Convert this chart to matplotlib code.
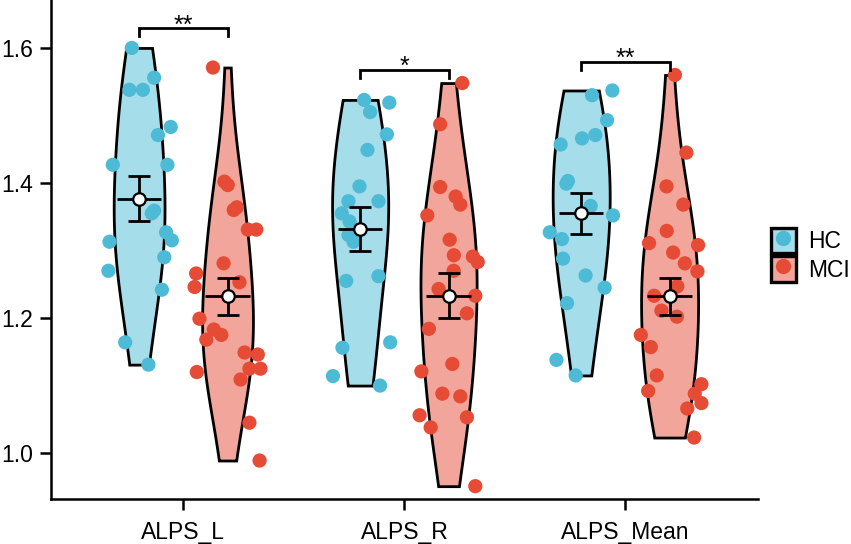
import numpy as np
import matplotlib
matplotlib.use("Agg")
import matplotlib.pyplot as plt
from matplotlib.patches import Patch
from matplotlib.lines import Line2D
from matplotlib.legend_handler import HandlerTuple

plt.rcParams['font.family'] = ['Liberation Sans', 'DejaVu Sans']

# ---------------- data ----------------
categories = ["ALPS_L", "ALPS_R", "ALPS_Mean"]
groups = ["HC", "MCI"]

hc_L = [1.600, 1.556, 1.538, 1.538, 1.483, 1.471, 1.427, 1.427, 1.359, 1.355,
        1.327, 1.315, 1.313, 1.290, 1.270, 1.242, 1.164, 1.131]
hc_L_jit = [-0.033, 0.068, -0.044, 0.017, 0.143, 0.085, -0.119, 0.128, 0.068, 0.057,
            0.122, 0.148, -0.134, 0.114, -0.139, 0.103, -0.063, 0.042]

mci_L = [1.571, 1.402, 1.397, 1.364, 1.360, 1.331, 1.331, 1.281, 1.266, 1.246, 1.253,
         1.199, 1.183, 1.175, 1.168, 1.149, 1.146, 1.125, 1.125, 1.120, 1.109,
         1.045, 0.989]
mci_L_jit = [-0.066, -0.014, 0.001, 0.042, 0.028, 0.092, 0.130, -0.018, -0.142, -0.149, 0.054,
             -0.127, -0.062, -0.028, -0.096, 0.077, 0.137, 0.099, 0.149, -0.139, 0.059,
             0.099, 0.145]

hc_R = [1.523, 1.519, 1.505, 1.472, 1.449, 1.395, 1.373, 1.373, 1.355, 1.343,
        1.323, 1.313, 1.255, 1.262, 1.164, 1.156, 1.114, 1.100]
hc_R_jit = [0.018, 0.132, 0.045, 0.121, 0.033, -0.003, 0.083, -0.053, -0.083, -0.048,
            -0.053, -0.030, -0.063, 0.083, 0.136, -0.080, -0.123, 0.090]

mci_R = [1.548, 1.487, 1.394, 1.380, 1.368, 1.352, 1.316, 1.293, 1.291, 1.283,
         1.270, 1.243, 1.233, 1.207, 1.184, 1.132, 1.121, 1.088, 1.084, 1.056,
         1.053, 1.038, 0.951]
mci_R_jit = [0.062, -0.038, -0.038, 0.032, 0.053, -0.096, 0.005, 0.024, 0.110, 0.132,
             0.023, -0.045, 0.121, 0.083, -0.089, 0.017, -0.123, -0.028, 0.053, -0.131,
             0.083, -0.081, 0.121]

hc_Mean = [1.530, 1.537, 1.493, 1.466, 1.471, 1.457, 1.403, 1.399, 1.366, 1.352,
           1.327, 1.317, 1.288, 1.263, 1.245, 1.222, 1.138, 1.115]
hc_Mean_jit = [0.049, 0.141, 0.117, 0.004, 0.064, -0.093, -0.060, -0.067, 0.043, 0.144,
               -0.142, -0.087, -0.082, 0.020, 0.106, -0.064, -0.112, -0.025]

mci_Mean = [1.560, 1.445, 1.395, 1.368, 1.329, 1.311, 1.308, 1.297, 1.281, 1.269,
            1.247, 1.233, 1.211, 1.202, 1.175, 1.157, 1.115, 1.092, 1.102, 1.088,
            1.074, 1.066, 1.023]
mci_Mean_jit = [0.024, 0.076, -0.014, 0.062, -0.013, -0.093, 0.129, 0.016, 0.069, 0.126,
                0.035, -0.070, -0.037, 0.033, -0.130, -0.085, -0.058, -0.097, 0.144, 0.114,
                0.144, 0.080, 0.111]

hc_means = [1.377, 1.332, 1.355]
hc_se = [0.033, 0.032, 0.030]
mci_means = [1.232, 1.233, 1.232]
mci_se = [0.028, 0.033, 0.028]

sig_labels = ["**", "*", "**"]
sig_y = [1.629, 1.568, 1.579]

yticks = [1.0, 1.2, 1.4, 1.6]
ytick_labels = ["1.0", "1.2", "1.4", "1.6"]

# ---------------- styling ----------------
dot_col = {"HC": "#4DBBD5", "MCI": "#E64B35"}
fill_col = {"HC": "#A6DDEA", "MCI": "#F2A59A"}
half_width = [0.115, 0.127, 0.129]
bw_adjust = 1.5
dodge = 0.2
lw = 2.0

values = {"HC": [hc_L, hc_R, hc_Mean], "MCI": [mci_L, mci_R, mci_Mean]}
jitters = {"HC": [hc_L_jit, hc_R_jit, hc_Mean_jit], "MCI": [mci_L_jit, mci_R_jit, mci_Mean_jit]}
means = {"HC": hc_means, "MCI": mci_means}
ses = {"HC": hc_se, "MCI": mci_se}


def nrd0(x):
    x = np.asarray(x)
    sd = x.std(ddof=1)
    iqr = np.subtract(*np.percentile(x, [75, 25]))
    lo = min(sd, iqr / 1.34) if iqr > 0 else sd
    return 0.9 * lo * len(x) ** (-0.2)


def kde(x, grid):
    x = np.asarray(x)
    bw = nrd0(x) * bw_adjust
    z = (grid[:, None] - x[None, :]) / bw
    return np.exp(-0.5 * z ** 2).sum(axis=1) / (len(x) * bw * np.sqrt(2 * np.pi))


fig = plt.figure(figsize=(8.51, 5.44), dpi=100)
ax = fig.add_axes([50.7 / 851, 45 / 544, (758 - 50.7) / 851, 499 / 544])

for ci, cat in enumerate(categories):
    center = ci + 1
    for gi, g in enumerate(groups):
        xc = center + (-dodge if gi == 0 else dodge)
        v = np.asarray(values[g][ci])
        grid = np.linspace(v.min(), v.max(), 400)
        d = kde(v, grid)
        d = d / d.max() * half_width[ci]
        ax.fill_betweenx(grid, xc - d, xc + d, facecolor=fill_col[g], edgecolor="black",
                         linewidth=lw, joinstyle="miter", zorder=2)
        ax.scatter(xc + np.asarray(jitters[g][ci]), v, s=105, color=dot_col[g],
                   edgecolors="none", zorder=3)
        m, s = means[g][ci], ses[g][ci]
        ax.errorbar(xc, m, yerr=s, fmt="none", ecolor="black", elinewidth=lw,
                    capsize=7.8, capthick=lw, zorder=4)
        ax.plot([xc - 0.1, xc + 0.1], [m, m], color="black", lw=lw, zorder=4,
                solid_capstyle="butt")
        ax.plot(xc, m, "o", ms=9, mfc="white", mec="black", mew=1.6, zorder=5)

    # significance bracket
    y = sig_y[ci]
    tip = 0.012
    ax.plot([center - dodge, center - dodge, center + dodge, center + dodge],
            [y - tip, y, y, y - tip], color="black", lw=lw, zorder=4,
            solid_joinstyle="miter", clip_on=False)
    ax.text(center, y - 0.006, sig_labels[ci], ha="center", va="baseline",
            fontsize=18, color="black")

ax.set_xlim(0.4, 3.6)
ax.set_ylim(0.932, 1.671)
ax.set_xticks([1, 2, 3])
ax.set_xticklabels(categories)
ax.set_yticks(yticks)
ax.set_yticklabels(ytick_labels)
for side in ["top", "right"]:
    ax.spines[side].set_visible(False)
for side in ["left", "bottom"]:
    ax.spines[side].set_linewidth(1.8)
ax.tick_params(axis="both", length=8, width=1.8, color="black")
ax.tick_params(axis="x", labelsize=16.5, pad=8)
ax.tick_params(axis="y", labelsize=16.5, pad=5)

handles = [(Patch(facecolor=fill_col[g], edgecolor="black", linewidth=2.4),
            Line2D([], [], ls="", marker="o", ms=11, mfc=dot_col[g], mec="none"))
           for g in groups]
fig.legend(handles, groups, handler_map={tuple: HandlerTuple(ndivide=1, pad=0)},
           loc="upper left", bbox_to_anchor=(770.7 / 851, 1 - 228 / 544),
           frameon=False, fontsize=16.5, borderpad=0, borderaxespad=0,
           handlelength=1.1, handleheight=1.33, handletextpad=0.55, labelspacing=0.12)

fig.savefig("out.png", dpi=100)
